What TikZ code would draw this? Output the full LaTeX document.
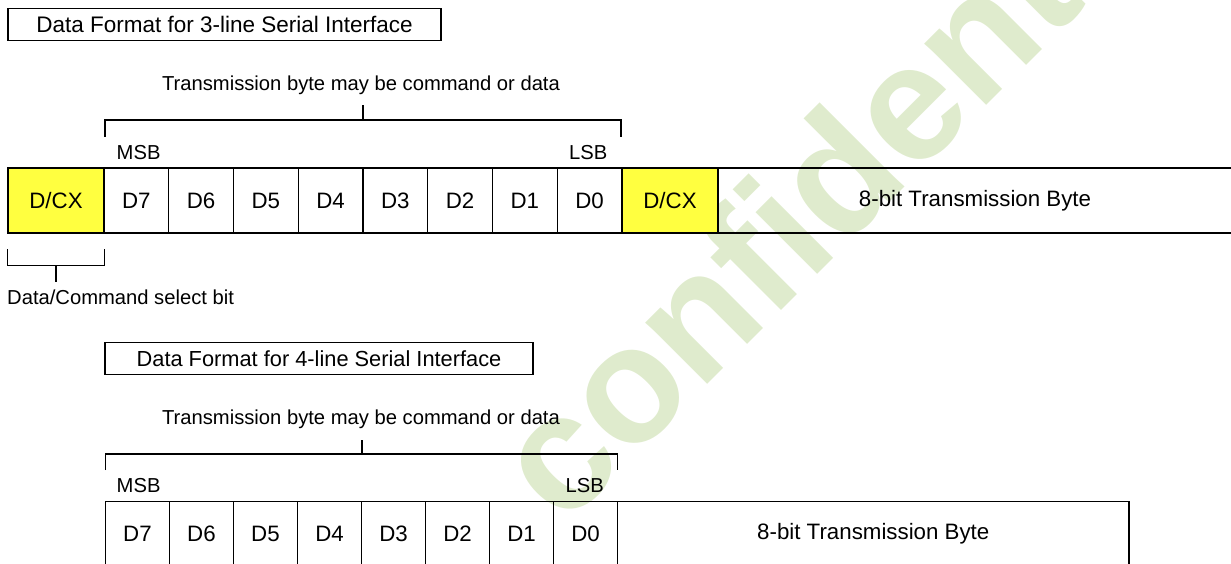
\documentclass[tikz,border=0pt]{standalone}
\usepackage{fontspec}
\setmainfont{Liberation Sans}
\definecolor{dcxfill}{RGB}{255,255,64}
\definecolor{wmark}{RGB}{223,235,205}
\tikzset{
  small/.style={font=\fontsize{20.2}{22}\selectfont, inner sep=0pt, anchor=base},
  ln/.style={line width=1.3pt, black},
  cell/.style={font=\fontsize{22.3}{24}\selectfont, inner sep=0pt, outer sep=0pt,
               draw, line width=1.3pt, minimum height=65pt, anchor=north west},
  bit/.style={cell, minimum width=64.75pt},
  bit4/.style={cell, minimum width=64pt},
  dcx/.style={cell, fill=dcxfill, minimum width=96pt},
  titlebox/.style={inner sep=0pt, outer sep=0pt, draw, line width=1.3pt, minimum height=32.5pt},
}
\begin{document}
\begin{tikzpicture}[x=1pt, y=-1pt]
\useasboundingbox (0,0) rectangle (1231,563);
\clip (0,0) rectangle (1231,563);

% watermark behind everything
\node[font=\fontsize{165}{170}\selectfont\bfseries, text=wmark, rotate=45,
      anchor=base west, inner sep=0pt] (wm) at (563,529) {confidential};

% ---------- 3-line serial interface ----------
\node[titlebox, font=\fontsize{22.5}{24}\selectfont, minimum width=433pt] (title3) at (224.5,24.5)
  {Data Format for 3-line Serial Interface};

\node[small] (tb3) at (361,90) {Transmission byte may be command or data};
\coordinate (b3l) at (105,136.5);
\coordinate (b3r) at (621,136.5);
\coordinate (b3t) at (363,120);
\draw[ln] (b3l) -- ++(0,-16.5) -| (b3r);
\draw[ln] (b3t) -- ++(0,-15);

\node[small, anchor=base west] (msb3) at (116.5,159.5) {MSB};
\node[small, anchor=base east] (lsb3) at (607.5,159.5) {LSB};

\node[dcx] (c3x) at (8,168) {D/CX};
\node[bit] (c3d7) at (c3x.north east) {D7};
\node[bit] (c3d6) at (c3d7.north east) {D6};
\node[bit] (c3d5) at (c3d6.north east) {D5};
\node[bit] (c3d4) at (c3d5.north east) {D4};
\node[bit] (c3d3) at (c3d4.north east) {D3};
\node[bit] (c3d2) at (c3d3.north east) {D2};
\node[bit] (c3d1) at (c3d2.north east) {D1};
\node[bit] (c3d0) at (c3d1.north east) {D0};
\node[dcx] (c3y) at (c3d0.north east) {D/CX};
\node[cell, minimum width=514pt] (c3b) at (c3y.north east) {8-bit Transmission Byte};

\coordinate (s3l) at (7.5,249);
\coordinate (s3r) at (104.5,249);
\coordinate (s3t) at (56,265.5);
\draw[ln] (s3l) -- ++(0,16.5) -| (s3r);
\draw[ln] (s3t) -- ++(0,16);
\node[small, anchor=base west] (sel) at (7,304) {Data/Command select bit};

% ---------- 4-line serial interface ----------
\node[titlebox, font=\fontsize{21.8}{24}\selectfont, minimum width=428pt] (title4) at (319,358.5)
  {Data Format for 4-line Serial Interface};

\node[small] (tb4) at (361,424) {Transmission byte may be command or data};
\coordinate (b4l) at (105.5,470);
\coordinate (b4r) at (617.5,470);
\coordinate (b4t) at (362,454);
\draw[ln] (b4l) -- ++(0,-16) -| (b4r);
\draw[ln] (b4t) -- ++(0,-14);

\node[small, anchor=base west] (msb4) at (116.5,492.5) {MSB};
\node[small, anchor=base east] (lsb4) at (604,492.5) {LSB};

\node[bit4] (c4d7) at (105.5,501.5) {D7};
\node[bit4] (c4d6) at (c4d7.north east) {D6};
\node[bit4] (c4d5) at (c4d6.north east) {D5};
\node[bit4] (c4d4) at (c4d5.north east) {D4};
\node[bit4] (c4d3) at (c4d4.north east) {D3};
\node[bit4] (c4d2) at (c4d3.north east) {D2};
\node[bit4] (c4d1) at (c4d2.north east) {D1};
\node[bit4] (c4d0) at (c4d1.north east) {D0};
\node[cell, minimum width=511.5pt] (c4b) at (c4d0.north east) {8-bit Transmission Byte};
\end{tikzpicture}
\end{document}
